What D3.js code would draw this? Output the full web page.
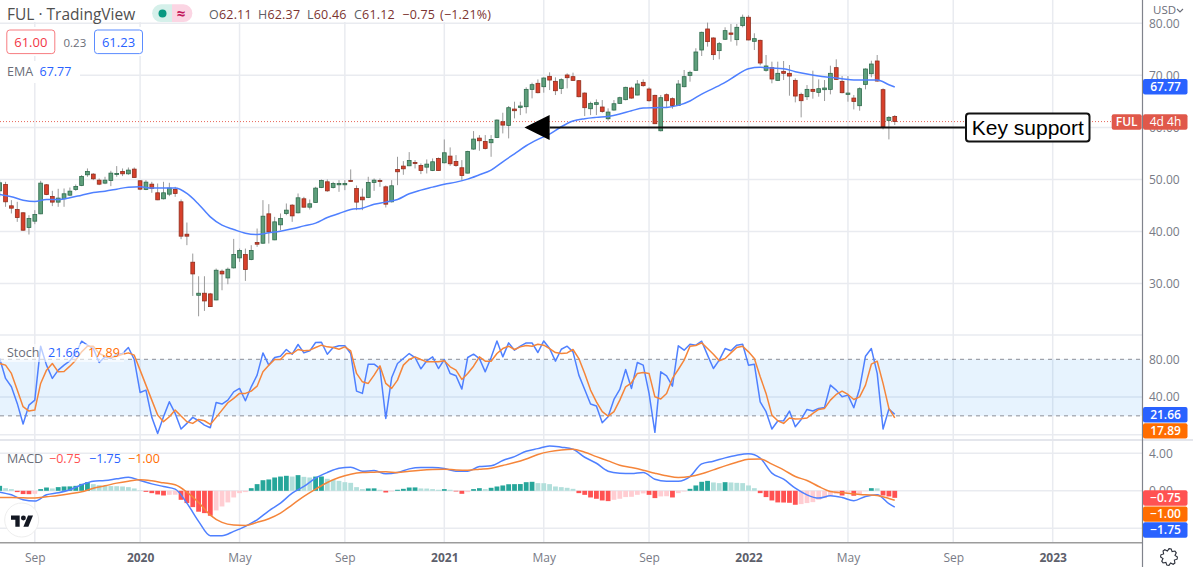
<!DOCTYPE html>
<html>
<head>
<meta charset="utf-8">
<title>FUL</title>
<script src="https://cdn.jsdelivr.net/npm/d3@7"></script>
<style>
  html, body { margin: 0; padding: 0; background: #fff; overflow: hidden; }
  text { font-family: "Open Sans", sans-serif; }
</style>
</head>
<body>
<svg id="chart" width="1193" height="567"></svg>
<script>
// weekly candles, one row = 10 weeks
var candleOpen = [
  47.82,49.04,44.94,44.23,43.6,40.77,41.99,43.4,48.98,46.74,
  45.65,46.29,46.99,48.08,48.85,50.9,51.03,49.87,49.3,49.81,
  51.03,51.54,51.09,51.99,49.75,48.08,49.1,47.44,46.29,47.18,
  48.08,45.71,39.49,34.11,27.76,28.15,28.02,26.86,32.38,31.09,
  33.02,34.94,35.58,34.62,37.89,37.76,43.4,38.4,41.29,43.47,
  45.07,43.6,46.29,44.68,45.58,48.46,49.55,48.46,48.98,48.98,
  49.81,48.27,46.61,46.54,49.43,49.81,48.59,45.71,51.93,52.57,
  52.63,53.27,52.7,52.37,51.73,54.04,53.21,54.49,53.47,52.25,
  51.22,55.84,57.95,57.31,57.06,58.08,61.09,60.39,63.53,63.85,
  63.98,67.31,68.47,67.82,69.81,68.85,67.5,70.07,69.75,68.98,
  66.6,63.59,64.43,63.92,61.67,63.34,64.62,65.33,67.57,66.22,
  68.66,67.38,66.16,59.36,66.29,65.52,64.23,67.82,70.0,70.97,
  74.87,78.91,77.18,74.75,76.93,78.14,76.86,79.55,81.16,76.54,
  76.73,70.97,71.48,69.04,70.77,70.39,69.04,66.35,65.9,67.31,
  66.73,67.25,67.31,71.48,68.85,66.35,65.64,64.17,68.27,70.32,
  72.76,67.25,61.35,62.11];
var candleClose = [
  49.36,45.71,44.49,42.69,40.26,42.5,43.27,49.3,47.12,45.65,
  46.42,47.25,47.76,48.66,50.58,51.54,50.13,49.1,49.87,51.22,
  51.16,51.09,51.8,50.39,48.14,49.49,48.27,46.09,47.44,48.34,
  47.31,39.11,39.11,31.86,28.15,26.67,25.58,32.57,31.86,32.76,
  35.58,36.35,32.7,36.35,37.57,42.95,39.94,41.86,42.5,44.11,
  43.01,46.48,44.68,45.33,48.34,49.81,47.82,49.23,49.23,49.23,
  49.62,45.65,46.09,49.43,49.87,49.62,45.26,48.79,51.48,52.05,
  53.66,53.08,51.73,52.95,53.4,51.73,55.13,53.02,52.7,50.77,
  55.39,57.76,57.44,55.97,57.69,61.41,60.45,63.79,63.21,64.11,
  67.31,68.21,66.67,69.49,69.1,67.05,69.17,69.55,69.04,65.9,
  63.79,64.62,64.75,63.08,62.95,64.55,65.71,67.7,65.64,68.34,
  68.02,65.13,60.71,65.71,65.13,64.23,68.34,69.75,70.58,74.49,
  78.27,76.48,73.98,76.09,78.59,77.89,79.23,81.16,76.8,77.05,
  72.37,71.8,69.3,70.39,70.39,69.87,66.03,65.13,67.31,66.93,
  67.44,67.57,70.39,69.23,66.67,66.6,65.0,67.44,71.22,72.18,
  68.91,60.13,61.93,61.12];
var candleHigh = [
  49.87,49.55,46.03,45.71,43.72,43.14,44.11,49.75,49.1,47.82,
  48.21,48.27,48.46,49.04,50.84,52.12,51.22,50.19,50.52,51.67,
  52.57,52.12,52.31,52.31,49.87,49.87,49.55,49.23,49.55,49.36,
  48.59,46.16,41.73,35.77,31.41,31.41,28.21,32.89,32.7,33.08,
  38.59,36.73,36.73,37.38,40.58,46.03,45.26,42.82,43.47,45.39,
  45.26,47.31,46.67,46.16,48.59,50.0,50.0,49.55,49.87,49.87,
  51.93,48.85,48.27,50.52,50.19,50.19,48.85,49.87,54.36,53.53,
  55.26,53.72,53.08,53.85,54.04,54.23,57.69,56.16,54.68,53.72,
  55.52,59.3,58.53,58.53,58.53,61.54,62.82,64.11,64.94,64.94,
  67.7,68.59,69.23,69.62,70.58,69.62,69.43,70.39,70.52,69.1,
  66.73,64.94,65.39,65.26,63.66,65.26,65.9,67.82,67.82,69.1,
  69.23,67.7,66.29,66.22,66.54,65.77,69.1,71.03,70.9,75.2,
  78.4,80.13,77.31,76.41,79.23,79.87,79.87,81.67,81.54,78.08,
  76.86,73.91,72.63,72.63,72.76,71.99,69.43,66.67,68.14,70.9,
  69.23,69.1,71.86,73.08,69.87,69.87,66.22,67.7,71.35,72.82,
  73.91,67.5,62.18,62.37];
var candleLow = [
  46.67,44.75,43.47,41.86,40.13,39.43,41.41,43.34,46.99,44.88,
  44.75,44.75,46.8,47.82,48.72,50.52,49.87,48.91,49.1,48.72,
  50.52,50.65,50.9,50.33,47.95,47.95,47.44,46.03,46.16,46.8,
  46.67,38.53,37.38,27.63,23.72,24.75,25.52,26.8,28.72,29.88,
  32.89,34.17,30.52,34.49,37.06,37.63,37.7,38.34,40.26,43.14,
  41.86,43.47,44.62,44.23,45.52,48.34,47.63,48.27,47.63,47.95,
  49.55,44.11,44.11,46.42,47.82,48.59,44.62,45.58,48.91,50.9,
  52.57,52.12,51.03,51.16,51.61,51.67,53.08,52.63,52.44,49.87,
  51.16,55.71,55.52,55.77,54.36,57.95,58.85,57.89,61.73,62.37,
  62.69,65.58,66.54,66.67,67.18,66.22,66.41,67.5,68.91,65.77,
  62.18,62.37,62.37,62.82,61.28,63.21,64.49,65.2,65.52,66.16,
  67.82,64.94,60.64,59.23,63.85,63.59,64.11,67.7,68.79,70.9,
  73.72,75.52,72.95,73.08,76.8,76.48,75.71,79.23,76.73,74.87,
  71.93,70.71,68.47,68.91,69.1,66.09,64.81,61.93,65.26,65.52,
  65.9,65.07,66.35,69.1,66.54,64.94,63.46,63.21,67.31,69.62,
  68.79,59.62,57.7,60.46];

// EMA read every second week, plus the last week
var lineWeeks = d3.range(0, 153, 2).concat([153]);
var emaValues = [
  47.12,46.67,46.03,45.77,46.16,46.16,46.48,46.99,47.5,47.76,
  48.14,48.53,48.59,48.34,48.34,48.34,47.31,45.26,42.82,41.22,
  40.39,39.68,39.43,39.75,40.07,40.52,41.09,41.61,42.69,43.47,
  44.23,44.49,45.26,45.65,46.16,47.25,47.95,48.53,49.1,49.49,
  50.07,50.9,51.8,53.4,54.94,56.48,57.69,58.72,60.13,61.22,
  61.67,61.93,62.12,62.57,63.21,63.72,63.79,63.85,64.23,65.07,
  66.41,67.5,68.66,70.07,71.29,71.54,71.41,71.29,70.71,70.26,
  69.88,69.62,69.36,69.1,69.1,69.1,68.21,67.77];

var stochK = [
  80.9,59.7,50.9,33.2,11.3,31.4,36.7,93.9,73.8,59.7,
  68.5,73.8,78.4,86.1,99.2,95,91.4,76.6,82.6,80.8,
  85.4,86.1,92.5,79.8,44.8,47.3,18.4,1.4,19.1,34.9,
  22.6,6,12,18.4,14.8,10.2,7.4,34.2,32.5,36.7,
  45.5,49.1,36,50.8,63.2,86.8,73.8,81.9,83.3,90.4,
  85.4,95.7,86.8,89,97.8,98.1,85.4,92.5,94.3,94.3,
  86.1,46.2,43.8,74.8,74.8,70.2,17.3,60.4,75.5,80.8,
  86.1,81.9,69.9,78.4,82.6,70.2,79.8,65,62.5,48.4,
  81.9,85.4,80.8,66.7,81.9,99.5,82.6,97.4,89.7,93.9,
  97.4,97.4,87.2,99.5,91.4,78,90.7,93.9,87.9,63.2,
  48,32.5,30.4,12.7,19.1,37.4,48,69.2,49.1,76.6,
  73.8,43.8,2.5,66.7,62.5,51.5,94.3,89.7,96,95,
  99.2,84.4,70.2,79.1,91.4,89,95,96,73.8,74.8,
  34.9,24.4,6,14.5,14.8,25.1,8.5,16.2,26.8,25.1,
  27.9,28.9,52.6,47.3,40.2,42,28.6,49.1,83.3,91.4,
  65,6,27.2,21.66];
var stochD = [
  75.5,73.8,65,47.3,29.7,25.1,26.1,54.4,68.5,75.5,
  66.7,67.1,72.7,79.1,87.9,93.9,93.9,86.1,83.3,81.9,
  83.3,85.4,86.8,84.4,68.5,52.6,36.7,20.8,13.8,19.1,
  26.1,19.8,13.8,12,16.2,14.8,10.9,18.4,26.1,33.9,
  38.5,43.8,43.8,46.2,51.5,66.7,73.8,79.8,79.8,86.1,
  86.1,90.4,89,89.7,92.5,95,93.2,92.5,90.7,93.2,
  89,65,56.1,54.4,63.2,73.1,54.4,49.1,57.9,73.8,
  79.8,82.6,79.8,77.3,77.3,77.3,78.4,72,68.5,58.6,
  65,72.7,82.6,78,78,86.1,91.4,93.9,90.4,93.2,
  94.6,93.9,96,95,91.4,87.2,86.1,86.8,90.4,80.8,
  65,47.3,34.9,24.4,19.8,24.4,36.7,50.8,55.1,65,
  66,65,40.2,37.8,43.8,59.7,69.2,79.1,93.9,94.6,
  97.4,91.4,85.4,78.4,80.8,86.8,92.5,93.9,87.9,80.8,
  61.4,43.8,20.8,14.8,12,17.7,16.6,16.9,17.7,22.6,
  26.8,27.9,36.7,42.7,46.2,42.7,37.4,40.2,52.6,74.8,
  78,54.4,27.9,17.89];

var macdLine = [
  -0.14,-0.43,-0.96,-1.1,-0.43,-0.21,0.11,0.64,1.03,1.1,
  1.28,1.45,1.1,0.74,0.46,0.18,-1.31,-3.26,-4.79,-4.79,
  -4.33,-3.79,-3.09,-2.13,-1.31,-0.25,0.46,1.35,1.95,2.41,
  2.52,2.09,2.16,1.81,1.95,2.34,2.48,2.48,2.38,2.09,
  2.09,2.59,2.66,3.23,3.65,4.22,4.5,4.79,4.65,4.43,
  3.58,2.94,2.09,1.88,1.84,1.95,1.24,1.03,1.03,1.52,
  2.87,3.16,3.51,3.79,3.94,3.48,1.88,1.24,0.28,-0.43,
  -0.78,-0.53,-0.71,-1.06,-0.6,-0.43,-1.38,-1.75];
var macdSignal = [
  -0.71,-0.71,-0.74,-0.78,-0.64,-0.5,-0.32,-0.11,0.28,0.53,
  0.82,1.03,1.17,1.06,0.85,0.64,-0.14,-1.24,-2.59,-3.37,
  -3.65,-3.69,-3.37,-2.98,-2.38,-1.49,-0.6,0.18,0.89,1.42,
  1.77,1.95,1.99,2.02,1.95,2.09,2.2,2.27,2.3,2.23,
  2.2,2.3,2.41,2.7,3.01,3.4,3.87,4.18,4.36,4.43,
  4.11,3.65,3.19,2.73,2.48,2.2,1.88,1.6,1.42,1.52,
  1.81,2.23,2.66,3.05,3.37,3.4,2.84,2.23,1.52,1.1,
  0.46,-0.07,-0.21,-0.32,-0.43,-0.5,-0.82,-1.0];
var macdHist = [
  0.53,0.28,0.18,-0.14,-0.35,-0.36,-0.32,0.18,0.35,0.25,
  0.39,0.46,0.47,0.53,0.74,0.92,0.71,0.6,0.53,0.5,
  0.49,0.46,0.39,0.25,0.04,-0.11,-0.25,-0.39,-0.5,-0.43,
  -0.42,-0.96,-1.31,-1.74,-2.23,-2.38,-2.66,-2.09,-1.67,-1.24,
  -0.71,-0.25,-0.14,0.28,0.71,1.13,1.21,1.42,1.52,1.6,
  1.52,1.67,1.49,1.42,1.52,1.53,1.28,1.17,1.06,0.92,
  0.85,0.39,0.18,0.25,0.26,0.11,-0.18,-0.07,0.11,0.21,
  0.35,0.36,0.25,0.24,0.18,0.11,0.18,0.11,-0.07,-0.32,
  -0.14,0.18,0.28,0.18,0.32,0.46,0.57,0.7,0.71,0.72,
  0.92,0.96,0.82,0.81,0.71,0.46,0.39,0.32,0.21,-0.25,
  -0.43,-0.71,-0.85,-1.03,-1.1,-0.96,-0.85,-0.67,-0.64,-0.43,
  -0.28,-0.43,-0.78,-0.6,-0.58,-0.71,-0.25,-0.07,0.21,0.57,
  0.96,1.06,0.89,0.82,0.92,0.89,0.85,0.82,0.57,0.28,
  -0.25,-0.67,-1.03,-1.24,-1.25,-1.28,-1.49,-1.42,-1.31,-1.21,
  -0.96,-0.78,-0.53,-0.32,-0.5,-0.18,-0.53,-0.35,-0.04,0.28,
  0.26,-0.5,-0.6,-0.75];

var timeTickWeeks = [6, 24, 41, 59, 76, 93, 111, 128, 145, 163, 180];
var timeTickLabels = ["Sep", "2020", "May", "Sep", "2021", "May", "Sep", "2022", "May", "Sep", "2023"];
var priceTicks = [80, 70, 60, 50, 40, 30];
var stochTicks = [80, 40];
var macdTicks = [4, 0, -4];

var supportPrice = 60, supportFromWeek = 94, supportToWeek = 165, arrowTipWeek = 89.7;
var lastClose = 61.12;

var width = 1193, height = 567, axisX = 1142.5;
var svg = d3.select("#chart");

var x = d3.scaleLinear().domain([0, 153]).range([-0.3, 894.75]);
var yPrice = d3.scaleLinear().domain([30, 80]).range([283.6, 23.3]);
var yStoch = d3.scaleLinear().domain([0, 80]).range([434.7, 359.3]);
var yMacd = d3.scaleLinear().domain([-4, 4]).range([528.3, 453.3]);

var blue = "#2962ff", orange = "#ff6d00", red = "#ff5252";
var lineBlue = "#4f80ff", lineOrange = "#f5853a";
var gridColor = "#e9ebf0";

// grid
var grid = svg.append("g").attr("stroke", gridColor).attr("stroke-width", 1.5).attr("fill", "none");
grid.selectAll(".v").data(timeTickWeeks).join("line")
  .attr("x1", d => x(d)).attr("x2", d => x(d)).attr("y1", 0).attr("y2", 542);
function hGrid(values, scale) {
  grid.selectAll(null).data(values).join("line")
    .attr("x1", 0).attr("x2", axisX).attr("y1", d => scale(d)).attr("y2", d => scale(d));
}
hGrid(priceTicks, yPrice);
hGrid([0, 40], yStoch);
hGrid(macdTicks, yMacd);
grid.append("line").attr("x1", 0).attr("x2", axisX).attr("y1", 335).attr("y2", 335);

// legends sit on white plates that hide the grid
var plates = [[0, 0, 490, 22], [0, 27, 146, 29], [0, 61, 80, 22]];
svg.append("g").selectAll("rect").data(plates).join("rect")
  .attr("x", d => d[0]).attr("y", d => d[1]).attr("width", d => d[2]).attr("height", d => d[3]).attr("fill", "#fff");

// price pane
svg.append("line").attr("x1", 0).attr("x2", 1112)
  .attr("y1", yPrice(lastClose)).attr("y2", yPrice(lastClose))
  .attr("stroke", "#e8665a").attr("stroke-width", 1).attr("stroke-dasharray", "1,2");

var weeks = d3.range(candleOpen.length);
var candles = svg.append("g");
candles.selectAll("line").data(weeks).join("line")
  .attr("x1", d => x(d)).attr("x2", d => x(d))
  .attr("y1", d => yPrice(candleHigh[d])).attr("y2", d => yPrice(candleLow[d]))
  .attr("stroke", "#9a9a9a").attr("stroke-width", 1);
candles.selectAll("rect").data(weeks).join("rect")
  .attr("x", d => x(d) - 1.9).attr("width", 3.8)
  .attr("y", d => yPrice(Math.max(candleOpen[d], candleClose[d])))
  .attr("height", d => Math.max(1, Math.abs(yPrice(candleOpen[d]) - yPrice(candleClose[d]))))
  .attr("fill", d => candleClose[d] >= candleOpen[d] ? "#5f9f7c" : "#d8402b")
  .attr("stroke", d => candleClose[d] >= candleOpen[d] ? "#2e6b4c" : "#8f2d1d")
  .attr("stroke-width", 0.8);

function drawLine(values, scale, color) {
  var weekList = values.length === lineWeeks.length ? lineWeeks : weeks;
  var path = d3.line().x((d, i) => x(weekList[i])).y(d => scale(d));
  if (values.length === lineWeeks.length) path.curve(d3.curveMonotoneX);
  svg.append("path").datum(values).attr("d", path)
    .attr("fill", "none").attr("stroke", color).attr("stroke-width", 1.5).attr("stroke-linejoin", "round");
}
drawLine(emaValues, yPrice, lineBlue);

// stochastic pane
svg.append("rect").attr("x", 0).attr("width", axisX)
  .attr("y", yStoch(80)).attr("height", yStoch(20) - yStoch(80))
  .attr("fill", "#2196f3").attr("fill-opacity", 0.11);
svg.append("g").selectAll("line").data([80, 20]).join("line")
  .attr("x1", 0).attr("x2", axisX).attr("y1", d => yStoch(d)).attr("y2", d => yStoch(d))
  .attr("stroke", "#8b8e98").attr("stroke-width", 1).attr("stroke-dasharray", "4,4");
drawLine(stochK, yStoch, lineBlue);
drawLine(stochD, yStoch, lineOrange);

// macd pane
function histColor(i) {
  var v = macdHist[i], prev = i ? macdHist[i - 1] : -Infinity;
  if (v >= 0) return v >= prev ? "#26a69a" : "#b2dfdb";
  return v < prev ? red : "#ffcdd2";
}
svg.append("g").selectAll("rect").data(weeks).join("rect")
  .attr("x", d => x(d) - 2.4).attr("width", 4.8)
  .attr("y", d => yMacd(Math.max(0, macdHist[d])))
  .attr("height", d => Math.abs(yMacd(macdHist[d]) - yMacd(0)))
  .attr("fill", d => histColor(d));
drawLine(macdLine, yMacd, lineBlue);
drawLine(macdSignal, yMacd, lineOrange);

// separators and axis frame
svg.append("rect").attr("x", 0).attr("y", 439).attr("width", width).attr("height", 2).attr("fill", "#e4e6ec");
svg.append("line").attr("x1", 0).attr("x2", axisX).attr("y1", 542.7).attr("y2", 542.7)
  .attr("stroke", "#9c9c9c").attr("stroke-width", 1.5);
svg.append("line").attr("x1", axisX).attr("x2", axisX).attr("y1", 0).attr("y2", height)
  .attr("stroke", "#80838c").attr("stroke-width", 1.2);

// axes
function styleAxis(g, size, color) {
  g.select(".domain").remove();
  g.selectAll(".tick line").remove();
  g.selectAll("text").attr("font-size", size).attr("fill", color)
    .style("font-family", '"Open Sans", sans-serif');
}
function rightAxis(scale, values) {
  svg.append("g").attr("transform", "translate(" + 1149 + ",0)")
    .call(d3.axisRight(scale).tickValues(values).tickSize(0).tickPadding(0).tickFormat(d3.format(".2f")))
    .call(styleAxis, 12, "#787b86");
}
rightAxis(yPrice, priceTicks);
rightAxis(yStoch, stochTicks);
rightAxis(yMacd, [4, 0]);

var timeAxis = svg.append("g").attr("transform", "translate(0,553)")
  .call(d3.axisBottom(x).tickValues(timeTickWeeks).tickSize(0).tickPadding(0)
    .tickFormat((d, i) => timeTickLabels[i]))
  .call(styleAxis, 12, "#787b86");
timeAxis.selectAll("text").attr("font-weight", (d, i) => /^\d/.test(timeTickLabels[i]) ? 700 : 400)
  .attr("fill", (d, i) => /^\d/.test(timeTickLabels[i]) ? "#5d606b" : "#787b86");

// right side value tags
svg.append("rect").attr("x", 1144).attr("y", 0).attr("width", 49).attr("height", 19).attr("fill", "#fff");
svg.append("text").attr("x", 1153).attr("y", 14).attr("font-size", 11.5).attr("fill", "#6a6d78").text("USD");
svg.append("path").attr("d", "M1177 9l3 3 3-3").attr("fill", "none").attr("stroke", "#6a6d78").attr("stroke-width", 1.1);

var tags = [
  { label: "67.77", top: 79, color: blue },
  { label: "4d 4h", top: 114.3, color: "#e0584a", weight: 400 },
  { label: "21.66", top: 407, color: blue },
  { label: "17.89", top: 423.2, color: orange },
  { label: "\u22120.75", top: 490.3, color: red },
  { label: "\u22121.00", top: 506.4, color: orange },
  { label: "\u22121.75", top: 522.3, color: blue }
];
var tagGroup = svg.append("g").selectAll("g").data(tags).join("g");
tagGroup.append("rect").attr("x", 1143).attr("y", d => d.top).attr("width", 44.5).attr("height", 15.4).attr("rx", 2).attr("fill", d => d.color);
tagGroup.append("text").attr("x", 1165.5).attr("y", d => d.top + 12).attr("text-anchor", "middle")
  .attr("font-size", 12).attr("font-weight", d => d.weight || 600).attr("fill", "#fff").text(d => d.label);
svg.append("rect").attr("x", 1111.7).attr("y", 114.3).attr("width", 30).attr("height", 15.4).attr("rx", 2).attr("fill", "#e0584a");
svg.append("text").attr("x", 1126.7).attr("y", 126.3).attr("text-anchor", "middle")
  .attr("font-size", 12).attr("font-weight", 600).attr("fill", "#fff").text("FUL");

// header legend
svg.append("text").attr("x", 7).attr("y", 19.5).attr("font-size", 15.5).attr("fill", "#4f4f4f").text("FUL \u00b7 TradingView");
svg.append("path").attr("d", "M172 4.3h-11a8.85 8.85 0 0 0 0 17.7h11z").attr("fill", "#d5f0ea");
svg.append("path").attr("d", "M172 4.3h11.5a8.85 8.85 0 0 1 0 17.7h-11.5z").attr("fill", "#fbd5e3");
svg.append("circle").attr("cx", 162.5).attr("cy", 13.6).attr("r", 4).attr("fill", "#089981");
svg.append("text").attr("x", 181).attr("y", 18.5).attr("text-anchor", "middle").attr("font-size", 15).attr("font-weight", 700).attr("fill", "#c2185b").text("\u2248");

var ohlcParts = [
  [209, "O", "62.11"], [258, "H", "62.37"], [307, "L", "60.46"], [354, "C", "61.12"],
  [402.3, "", "\u22120.75"], [440, "", "(\u22121.21%)"]
];
var ohlc = svg.append("g").selectAll("text").data(ohlcParts).join("text")
  .attr("x", d => d[0]).attr("y", 19).attr("font-size", 12.5).attr("letter-spacing", 0.2);
ohlc.append("tspan").attr("fill", "#5d5f68").text(d => d[1]);
ohlc.append("tspan").attr("fill", "#7b3330").text(d => d[2]);

svg.append("rect").attr("x", 6.8).attr("y", 30).attr("width", 48).attr("height", 23.6).attr("rx", 3)
  .attr("fill", "#fff").attr("stroke", "#f77c80").attr("stroke-width", 1);
svg.append("text").attr("x", 30.8).attr("y", 46.8).attr("text-anchor", "middle").attr("font-size", 13).attr("fill", "#f23645").text("61.00");
svg.append("text").attr("x", 63.5).attr("y", 46.5).attr("font-size", 11.5).attr("fill", "#6a6d78").text("0.23");
svg.append("rect").attr("x", 94.5).attr("y", 30).attr("width", 48).attr("height", 23.6).attr("rx", 3)
  .attr("fill", "#fff").attr("stroke", "#5b8cff").attr("stroke-width", 1);
svg.append("text").attr("x", 118.5).attr("y", 46.8).attr("text-anchor", "middle").attr("font-size", 13).attr("fill", blue).text("61.23");

// indicator legends
function legendRow(y, parts) {
  svg.append("g").selectAll("text").data(parts).join("text")
    .attr("x", d => d[0]).attr("y", y).attr("font-size", 12.5).attr("fill", d => d[2]).text(d => d[1]);
}
legendRow(75.5, [[7, "EMA", "#6a6d78"], [39.5, "67.77", blue]]);
svg.append("rect").attr("x", 0).attr("y", 344).attr("width", 124).attr("height", 18).attr("fill", "#fff").attr("fill-opacity", 0.6);
legendRow(357, [[7, "Stoch", "#6a6d78"], [48, "21.66", blue], [88, "17.89", orange]]);
legendRow(462.5, [[7, "MACD", "#6a6d78"], [49, "\u22120.75", red], [89, "\u22121.75", blue], [128, "\u22121.00", orange]]);

// logo
svg.append("circle").attr("cx", 21.7).attr("cy", 520).attr("r", 17).attr("fill", "#fff").attr("stroke", "#eeeeee").attr("stroke-width", 1);
var logo = svg.append("g").attr("transform", "translate(11,513) scale(0.62)").attr("fill", "#131722");
logo.append("path").attr("d", "M14 22H7V11H0V4h14v18zM28 22h-8l7.5-18h8L28 22z");
logo.append("circle").attr("cx", 20).attr("cy", 8).attr("r", 4);

// gear
var gearRadius = [8.4, 8.4, 6.2];
var gearPts = d3.range(24).map(i => [i * Math.PI / 12, gearRadius[i % 3]]);
svg.append("path").attr("transform", "translate(1169,557)")
  .attr("d", d3.lineRadial().curve(d3.curveLinearClosed)(gearPts))
  .attr("fill", "none").attr("stroke", "#2a2e39").attr("stroke-width", 1.1);

// annotation
svg.append("line").attr("x1", x(supportFromWeek)).attr("x2", x(supportToWeek))
  .attr("y1", yPrice(supportPrice)).attr("y2", yPrice(supportPrice))
  .attr("stroke", "#111").attr("stroke-width", 2);
var tipX = x(arrowTipWeek), baseX = x(supportFromWeek), arrowY = yPrice(supportPrice);
svg.append("path").attr("d", d3.line()([[tipX, arrowY], [baseX, arrowY - 12.3], [baseX, arrowY + 12.5]]) + "Z").attr("fill", "#000");
svg.append("rect").attr("x", 966).attr("y", 113.5).attr("width", 123.5).attr("height", 28).attr("rx", 3)
  .attr("fill", "#fff").attr("stroke", "#111").attr("stroke-width", 2);
svg.append("text").attr("x", 1027.8).attr("y", 134.5).attr("text-anchor", "middle")
  .style("font-family", '"Liberation Sans", Arial, sans-serif').attr("font-size", 21).attr("fill", "#000").text("Key support");
</script>
</body>
</html>
